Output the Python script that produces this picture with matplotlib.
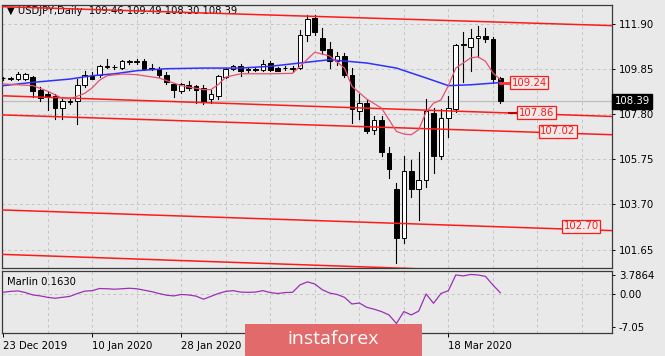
import matplotlib
matplotlib.use("Agg")
import matplotlib.pyplot as plt
from matplotlib.transforms import blended_transform_factory
from matplotlib.patches import Rectangle

BG = "#e9e9e9"
GRID = "#c4c4c4"
FRAME = "#3a3a3a"
FONT = "DejaVu Sans"

# USDJPY daily bars, index 0 = 23 Dec 2019, last = 27 Mar 2020
opens = [109.44, 109.42, 109.42, 109.42, 109.48, 108.92, 108.72, 108.61, 108.08, 108.36,
         108.38, 109.11, 109.52, 109.57, 109.97, 109.93, 109.90, 110.18, 110.19, 110.24,
         109.87, 109.87, 109.57, 109.18, 108.88, 109.14, 109.07, 108.99, 108.49, 108.61,
         109.48, 109.87, 110.01, 109.84, 109.84, 109.83, 110.13, 109.90, 109.89, 109.86,
         109.90, 111.42, 112.18, 111.27, 110.77, 110.20, 110.43, 109.60, 107.97, 108.31,
         107.10, 107.55, 106.06, 104.39, 102.16, 105.24, 104.39, 104.82, 107.85, 105.88,
         107.63, 108.04, 110.95, 110.86, 111.27, 111.37, 111.24, 109.46]
highs = [109.50, 109.48, 109.70, 109.68, 109.55, 109.05, 108.81, 108.70, 108.60, 108.55,
         109.40, 109.75, 109.70, 110.05, 110.30, 110.05, 110.25, 110.28, 110.30, 110.30,
         110.10, 109.93, 109.70, 109.22, 109.22, 109.30, 109.15, 109.15, 108.90, 109.60,
         109.90, 110.05, 110.10, 109.95, 109.90, 110.25, 110.20, 109.95, 109.98, 109.98,
         111.65, 112.30, 112.30, 111.70, 111.07, 110.62, 110.60, 109.90, 108.70, 108.46,
         107.70, 107.70, 106.31, 104.67, 105.88, 105.73, 106.10, 108.49, 108.08, 108.05,
         108.64, 111.00, 111.55, 111.68, 111.80, 111.70, 111.30, 109.49]
lows = [109.38, 109.36, 109.36, 109.38, 108.60, 108.40, 108.00, 107.58, 107.60, 108.25,
        107.35, 109.05, 109.40, 109.50, 109.90, 109.85, 109.85, 110.10, 110.10, 109.82,
        109.82, 109.50, 109.18, 108.60, 108.78, 108.90, 108.30, 108.26, 108.33, 108.50,
        109.45, 109.80, 109.55, 109.70, 109.78, 109.78, 109.75, 109.75, 109.80, 109.70,
        109.85, 111.15, 111.40, 110.55, 109.90, 110.06, 109.50, 107.40, 107.60, 106.94,
        106.91, 105.92, 104.89, 101.02, 101.93, 104.03, 103.00, 104.50, 105.12, 105.75,
        106.76, 107.90, 109.25, 109.75, 110.40, 111.10, 109.20, 108.30]
closes = [109.45, 109.43, 109.63, 109.63, 108.87, 108.54, 108.61, 108.08, 108.38, 108.40,
          109.11, 109.57, 109.42, 109.98, 110.00, 109.94, 110.20, 110.21, 110.20, 109.87,
          109.86, 109.57, 109.27, 108.92, 109.18, 108.99, 108.92, 108.36, 108.72, 109.52,
          109.87, 109.98, 109.75, 109.82, 109.83, 110.09, 109.83, 109.78, 109.90, 109.88,
          111.42, 112.15, 111.54, 110.74, 110.20, 110.43, 109.60, 108.04, 108.31, 107.02,
          107.52, 106.10, 105.30, 102.19, 105.24, 104.39, 104.81, 107.97, 105.88, 107.65,
          108.08, 110.97, 110.98, 111.27, 111.37, 111.22, 109.42, 108.39]

# slow (blue) and fast (pink) moving averages, read at selected bars
slow_idx = [0, 4, 9, 12, 15, 18, 22, 27, 32, 36, 40, 44, 49, 53, 57, 60, 63, 67]
slow_val = [109.10, 109.25, 109.40, 109.55, 109.64, 109.78, 109.87, 109.90, 109.90, 109.98,
            110.13, 110.28, 110.13, 109.90, 109.45, 109.10, 109.14, 109.24]
fast_idx = [0, 4, 6, 8, 9, 11, 12, 13, 14, 16, 18, 21, 24, 27, 28, 29, 30, 32, 36, 39,
            40, 42, 44, 46, 47, 49, 51, 52, 53, 54, 55, 56, 57, 58, 59, 60, 61, 63, 64,
            65, 66, 67]
fast_val = [109.18, 109.10, 108.85, 108.52, 108.50, 108.75, 109.00, 109.35, 109.55, 109.63,
            109.60, 109.45, 109.10, 108.92, 108.92, 109.15, 109.49, 109.64, 109.64, 109.66,
            109.98, 110.62, 110.45, 109.90, 109.07, 108.49, 108.08, 107.55, 107.02, 106.90,
            106.87, 107.10, 107.90, 108.30, 108.45, 109.10, 109.90, 110.36, 110.41, 110.21,
            109.68, 109.37]

# descending red channel lines: price at the left and right edge of the chart
channel_start = [112.69, 108.64, 107.77, 103.45, 101.43]
channel_end = [111.83, 107.70, 106.87, 102.51, 100.47]

level_vals = [109.24, 107.86, 107.02, 102.70]
level_pos = [68.5, 69.5, 72.4, 75.5]

price_ticks = [111.90, 109.85, 107.80, 105.75, 103.70, 101.65]
bid = 108.39

# labels at 36 and 48 sit under the watermark in the original, so they stay blank
date_idx = [0, 12, 24, 36, 48, 60]
date_labels = ["23 Dec 2019", "10 Jan 2020", "28 Jan 2020", "", "", "18 Mar 2020"]

# Marlin oscillator, one value per bar
marlin = [0.25, 0.45, 0.55, 0.20, -0.30, -0.50, -0.80, -1.00, -0.80, -0.60,
          0.00, 0.50, 0.60, 1.05, 1.00, 0.90, 1.00, 1.10, 1.00, 0.70,
          0.40, 0.00, -0.35, -0.50, -0.20, -0.30, -0.55, -1.20, -0.60, 0.00,
          0.45, 0.60, 0.30, 0.25, 0.30, 0.60, 0.20, 0.00, 0.20, 0.25,
          1.80, 2.45, 2.00, 0.80, 0.10, -0.20, -0.80, -2.20, -2.00, -2.90,
          -3.30, -3.80, -4.50, -6.30, -3.80, -4.50, -3.70, -0.10, -2.06, 0.00,
          0.60, 3.90, 3.70, 4.00, 3.90, 3.60, 1.80, 0.16]
marlin_ticks = [3.7864, 0.0, -7.05]

XMIN, XMAX = -0.15, 82.05
W, H = 665, 356

fig = plt.figure(figsize=(W / 100, H / 100), dpi=100, facecolor=BG)
ax = fig.add_axes([2 / W, (H - 268) / H, 610 / W, 263.5 / H], facecolor=BG)
ax2 = fig.add_axes([2 / W, (H - 333.3) / H, 610 / W, 62.3 / H], facecolor=BG)

for a in (ax, ax2):
    a.set_xlim(XMIN, XMAX)
    for s in a.spines.values():
        s.set_color(FRAME)
        s.set_linewidth(0.9)
    for v in range(6, 82, 6):
        a.axvline(v, color=GRID, lw=0.7, ls=(0, (3, 3)), zorder=0)
    a.yaxis.tick_right()
    a.tick_params(axis="y", direction="out", length=2.5, width=0.7, pad=2.5,
                  labelsize=7.3, colors="black")

ax.set_ylim(100.81, 112.79)
ax.set_yticks(price_ticks)
ax.set_yticklabels([f"{t:.2f}" for t in price_ticks], fontfamily=FONT)
ax.set_xticks([])
for t in price_ticks:
    ax.axhline(t, color=GRID, lw=0.7, ls=(0, (3, 3)), zorder=0)
ax.axhline(bid, color="#bdbdbd", lw=0.9, zorder=1)

# channel lines
for s, e in zip(channel_start, channel_end):
    ax.plot([XMIN, XMAX], [s, e], color="#ff1a1a", lw=1.1, zorder=4)

# candles
for i, (o, h, l, c) in enumerate(zip(opens, highs, lows, closes)):
    ax.plot([i, i], [l, h], color="black", lw=0.8, zorder=2)
    body = max(abs(c - o), 0.025)
    ax.add_patch(Rectangle((i - 0.31, min(o, c)), 0.62, body,
                           facecolor="white" if c >= o else "black",
                           edgecolor="black", lw=0.7, zorder=3))

ax.plot(slow_idx, slow_val, color="#3030ff", lw=1.1, zorder=5)
ax.plot(fast_idx, fast_val, color="#e8506e", lw=0.9, zorder=5)

# level labels
ax.plot([len(opens) - 1, level_pos[0]], [level_vals[0]] * 2, color="#ff3030", lw=2, zorder=5)
ax.plot([level_pos[1] - 1.3, level_pos[1]], [level_vals[1]] * 2, color="#c00000", lw=1.5, zorder=5)
for v, p in zip(level_vals, level_pos):
    ax.text(p, v, f"{v:.2f}", color="#ff1a1a", fontsize=7.3, fontfamily=FONT,
            ha="left", va="center", zorder=6,
            bbox=dict(boxstyle="square,pad=0.15", fc="#eeeaea", ec="#ff1a1a", lw=0.9))

tr = blended_transform_factory(ax.transAxes, ax.transData)
ax.text(1.004, bid, f"{bid:.2f}", transform=tr, color="white", fontsize=7.3,
        fontfamily=FONT, ha="left", va="center", zorder=7, clip_on=False,
        bbox=dict(boxstyle="square,pad=0.25", fc="black", ec="black"))

ax.text(0.008, 0.975, "\u25bc USDJPY,Daily  " + " ".join(f"{v:.2f}" for v in
        (opens[-1], highs[-1], lows[-1], closes[-1])),
        transform=ax.transAxes, fontsize=7.2, fontfamily=FONT, ha="left", va="center",
        zorder=1)

# Marlin panel
ax2.set_ylim(-8.36, 4.73)
ax2.set_yticks(marlin_ticks)
ax2.set_yticklabels(["3.7864", "0.00", "-7.05"], fontfamily=FONT)
ax2.axhline(0, color=GRID, lw=0.7, ls=(0, (3, 3)), zorder=0)
ax2.plot(range(len(marlin)), marlin, color="#9b30b5", lw=0.9, zorder=3)
ax2.text(0.008, 0.82, "Marlin 0.1630", transform=ax2.transAxes,
         fontsize=7.2, fontfamily=FONT, ha="left", va="center")
ax2.set_xticks(date_idx)
ax2.set_xticklabels(date_labels, fontfamily=FONT, fontsize=7.3, ha="left")
ax2.tick_params(axis="x", direction="out", length=3, width=0.7, pad=2.5)

# watermark
fig.patches.append(Rectangle((245 / W, 0), 177 / W, 32 / H, transform=fig.transFigure,
                             facecolor="#e26a6a", edgecolor="none", zorder=10))
fig.text(333 / W, 17 / H, "instaforex", color="white", fontsize=14,
         fontfamily="Open Sans", ha="center", va="center", zorder=11)

fig.savefig("out.png", dpi=100, facecolor=BG)
